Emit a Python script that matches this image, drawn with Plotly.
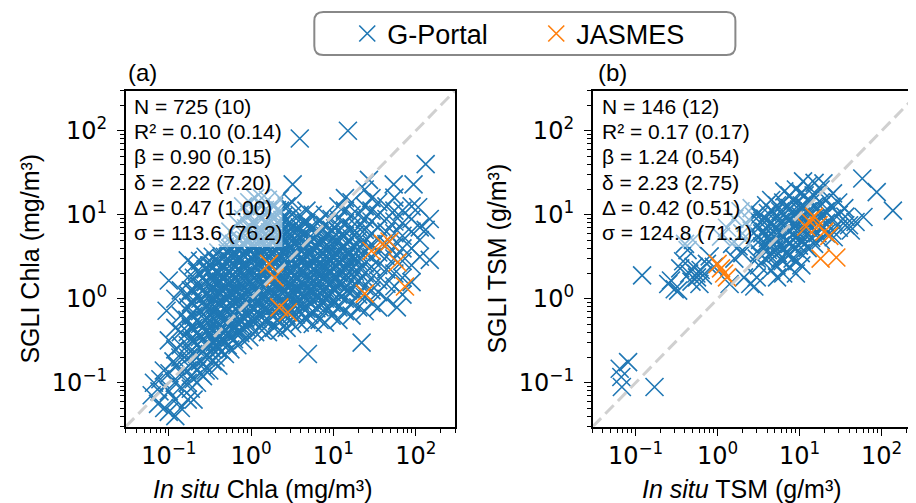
import plotly.graph_objects as go

BLUE = "#1f77b4"
ORANGE = "#ff7f0e"

# ---------------- data: (in situ, SGLI) pairs ----------------
a_gportal = [
    (0.062, 0.071), (0.066, 0.1),
    (0.074, 0.056), (0.077, 0.079), (0.079, 0.11),
    (0.088, 0.05), (0.09, 0.089), (0.087, 0.14), (0.094, 0.72),
    (0.1, 0.045), (0.1, 0.079), (0.102, 0.13), (0.1, 0.32), (0.1, 1.65), (0.114, 0.18),
    (0.12, 0.04), (0.12, 0.063), (0.118, 0.1), (0.122, 0.16), (0.12, 0.25), (0.12, 0.45), (0.12, 1.0),
    (0.14, 0.05), (0.14, 0.089), (0.142, 0.13), (0.138, 0.2), (0.14, 0.28), (0.14, 0.4), (0.14, 0.63), (0.14, 1.26),
    (0.17, 0.063), (0.17, 0.1), (0.168, 0.14), (0.172, 0.2), (0.17, 0.28), (0.17, 0.4), (0.168, 0.56),
    (0.172, 0.79), (0.17, 1.12), (0.17, 1.78), (0.17, 2.86),
    (0.2, 0.063), (0.2, 0.11), (0.2, 0.16), (0.198, 0.22), (0.202, 0.32), (0.2, 0.45), (0.2, 0.63),
    (0.198, 0.89), (0.2, 1.26), (0.202, 1.78), (0.2, 2.51),
    (0.24, 0.13), (0.24, 0.18), (0.242, 0.25), (0.238, 0.35), (0.24, 0.5), (0.24, 0.71), (0.242, 1.0),
    (0.24, 1.41), (0.238, 2.0), (0.24, 2.82),
    (0.28, 0.14), (0.28, 0.2), (0.28, 0.28), (0.282, 0.4), (0.278, 0.56), (0.28, 0.79), (0.28, 1.12),
    (0.282, 1.58), (0.28, 2.24), (0.28, 3.16),
    (0.34, 0.18), (0.34, 0.25), (0.338, 0.35), (0.342, 0.5), (0.34, 0.71), (0.34, 1.0), (0.34, 1.32),
    (0.338, 1.78), (0.34, 2.4), (0.342, 3.16),
    (0.4, 0.16), (0.4, 0.25), (0.4, 0.35), (0.398, 0.5), (0.402, 0.66), (0.4, 0.89), (0.4, 1.2),
    (0.4, 1.58), (0.398, 2.09), (0.4, 2.82), (0.4, 3.55),
    (0.48, 0.22), (0.48, 0.32), (0.48, 0.42), (0.478, 0.56), (0.482, 0.76), (0.48, 1.0), (0.48, 1.32),
    (0.48, 1.78), (0.478, 2.4), (0.48, 3.16), (0.48, 4.17),
    (0.56, 0.25), (0.56, 0.35), (0.56, 0.5), (0.558, 0.66), (0.562, 0.89), (0.56, 1.2), (0.56, 1.58),
    (0.56, 2.09), (0.558, 2.82), (0.56, 3.98), (0.56, 6.31), (0.52, 5.0),
    (0.68, 0.28), (0.68, 0.4), (0.68, 0.52), (0.678, 0.71), (0.682, 0.95), (0.68, 1.26), (0.68, 1.66),
    (0.68, 2.24), (0.678, 3.02), (0.68, 3.98), (0.68, 5.25), (0.68, 7.94),
    (0.8, 0.32), (0.8, 0.45), (0.8, 0.6), (0.798, 0.79), (0.802, 1.05), (0.8, 1.41), (0.8, 1.91),
    (0.8, 2.51), (0.798, 3.31), (0.8, 4.47), (0.8, 6.03), (0.8, 8.91), (0.8, 12.6),
    (0.95, 0.35), (0.95, 0.5), (0.95, 0.66), (0.948, 0.89), (0.952, 1.2), (0.95, 1.58), (0.95, 2.09),
    (0.95, 2.82), (0.948, 3.8), (0.95, 5.01), (0.95, 7.08), (0.95, 10.0), (0.95, 14.1),
    (1.12, 0.4), (1.12, 0.56), (1.12, 0.76), (1.118, 1.0), (1.122, 1.32), (1.12, 1.78), (1.12, 2.4),
    (1.12, 3.16), (1.118, 4.17), (1.12, 5.62), (1.12, 7.94), (1.12, 11.2), (1.12, 15.8),
    (1.35, 0.42), (1.35, 0.6), (1.35, 0.79), (1.348, 1.05), (1.352, 1.41), (1.35, 1.91), (1.35, 2.51),
    (1.35, 3.31), (1.348, 4.47), (1.35, 6.31), (1.35, 8.91), (1.35, 12.6), (1.35, 15.8),
    (1.6, 0.4), (1.6, 0.56), (1.6, 0.76), (1.598, 1.0), (1.602, 1.32), (1.6, 1.78), (1.6, 2.4),
    (1.6, 3.16), (1.598, 4.17), (1.6, 5.62), (1.6, 7.94), (1.6, 11.2), (1.6, 15.1),
    (1.9, 0.45), (1.9, 0.63), (1.9, 0.83), (1.898, 1.12), (1.902, 1.51), (1.9, 2.0), (1.9, 2.63),
    (1.9, 3.55), (1.898, 4.79), (1.9, 6.31), (1.9, 8.91), (1.9, 12.6),
    (2.24, 0.42), (2.24, 0.6), (2.24, 0.79), (2.238, 1.05), (2.242, 1.41), (2.24, 1.91), (2.24, 2.51),
    (2.24, 3.31), (2.238, 4.47), (2.24, 6.03), (2.24, 8.32), (2.24, 11.2), (2.24, 15.8),
    (2.7, 0.45), (2.7, 0.63), (2.7, 0.83), (2.698, 1.12), (2.702, 1.51), (2.7, 2.0), (2.7, 2.63),
    (2.7, 3.55), (2.698, 4.79), (2.7, 6.31), (2.7, 8.91), (2.7, 12.6),
    (3.16, 0.5), (3.16, 0.66), (3.16, 0.89), (3.158, 1.2), (3.162, 1.58), (3.16, 2.09), (3.16, 2.82),
    (3.16, 3.8), (3.158, 5.01), (3.16, 7.08), (3.16, 10.0), (3.16, 14.1), (3.2, 23.0),
    (3.9, 0.52), (3.9, 0.71), (3.9, 0.95), (3.898, 1.26), (3.902, 1.66), (3.9, 2.24), (3.9, 3.02),
    (3.9, 3.98), (3.898, 5.25), (3.9, 7.08), (3.9, 10.0), (3.9, 81.0),
    (4.9, 0.22), (4.7, 0.56), (4.7, 0.76), (4.698, 1.0), (4.702, 1.32), (4.7, 1.78), (4.7, 2.4),
    (4.7, 3.16), (4.698, 4.17), (4.7, 5.62), (4.7, 7.94), (4.7, 11.2),
    (5.6, 0.5), (5.6, 0.71), (5.6, 0.95), (5.598, 1.26), (5.602, 1.66), (5.6, 2.24), (5.6, 3.02),
    (5.6, 3.98), (5.598, 5.25), (5.6, 7.08), (5.6, 10.0),
    (6.8, 0.56), (6.8, 0.79), (6.8, 1.05), (6.798, 1.41), (6.802, 1.91), (6.8, 2.51), (6.8, 3.31),
    (6.8, 4.47), (6.798, 6.03), (6.8, 8.32),
    (7.9, 0.52), (7.9, 0.76), (7.9, 1.0), (7.898, 1.32), (7.902, 1.78), (7.9, 2.4), (7.9, 3.16),
    (7.9, 4.17), (7.898, 5.62), (7.9, 7.59), (7.9, 10.0),
    (9.5, 0.63), (9.5, 0.89), (9.5, 1.2), (9.48, 1.58), (9.52, 2.09), (9.5, 2.82), (9.5, 3.8),
    (9.5, 5.01), (9.48, 6.61), (9.5, 8.91),
    (11.5, 0.56), (11.5, 0.79), (11.5, 1.12), (11.48, 1.51), (11.52, 2.0), (11.5, 2.63), (11.5, 3.55),
    (11.5, 4.79), (11.48, 6.31), (11.5, 8.91), (11.5, 12.6),
    (13.8, 0.71), (13.8, 1.0), (13.8, 1.32), (13.78, 1.78), (13.82, 2.4), (13.8, 3.16), (13.8, 4.17),
    (13.8, 5.62), (13.78, 7.94), (13.8, 11.2), (13.8, 15.8), (15.0, 100.0),
    (16.6, 0.63), (16.6, 0.89), (16.6, 1.26), (16.58, 1.66), (16.62, 2.24), (16.6, 3.02), (16.6, 3.98),
    (16.6, 5.25), (16.58, 7.08), (16.6, 10.0), (16.6, 14.1),
    (22.0, 0.3), (20.0, 0.79), (20.0, 1.12), (19.98, 1.58), (20.02, 2.09), (20.0, 2.82), (20.0, 3.8),
    (20.0, 5.01), (19.98, 7.08), (20.0, 10.0),
    (24.0, 0.71), (24.0, 1.05), (24.0, 1.41), (23.98, 2.0), (24.02, 2.63), (24.0, 3.55), (24.0, 4.79),
    (24.0, 6.61), (23.98, 8.91), (24.0, 12.6), (24.0, 20.0),
    (29.0, 0.89), (29.0, 1.26), (29.0, 1.78), (28.98, 2.4), (29.02, 3.16), (29.0, 4.47), (29.0, 6.03),
    (29.0, 8.32), (28.98, 11.2), (29.0, 15.8), (27.0, 26.0),
    (35.0, 0.79), (35.0, 1.2), (35.0, 1.66), (34.98, 2.51), (35.02, 3.55), (35.0, 5.01), (35.0, 7.08),
    (35.0, 10.0), (35.0, 14.1),
    (44.0, 1.0), (44.0, 1.51), (44.0, 2.24), (43.98, 3.16), (44.02, 4.47), (44.0, 6.31), (44.0, 8.91),
    (44.0, 12.6), (54.0, 23.0),
    (59.0, 0.79), (55.0, 1.41), (55.0, 2.0), (54.98, 3.02), (55.02, 4.17), (55.0, 6.03), (55.0, 8.32),
    (55.0, 11.2), (55.0, 16.0),
    (69.0, 1.12), (69.0, 1.78), (69.0, 2.82), (68.98, 3.98), (69.02, 5.62), (69.0, 7.94), (69.0, 11.2),
    (89.0, 1.58), (89.0, 2.51), (89.0, 3.98), (88.98, 6.31), (89.02, 8.91), (89.0, 12.6), (94.0, 23.0),
    (112.0, 3.16), (112.0, 5.01), (112.0, 7.08), (107.0, 12.3),
    (132.0, 6.61), (132.0, 40.0),
    (148.0, 2.9), (148.0, 8.91),
    # dense core, in between the points above
    (0.185, 0.085), (0.185, 0.12), (0.185, 0.17), (0.185, 0.24), (0.185, 0.33), (0.185, 0.46),
    (0.185, 0.65), (0.185, 0.9), (0.185, 1.26),
    (0.22, 0.1), (0.22, 0.14), (0.22, 0.2), (0.22, 0.28), (0.22, 0.39), (0.22, 0.55), (0.22, 0.77),
    (0.22, 1.08), (0.22, 1.5), (0.22, 2.1),
    (0.26, 0.12), (0.26, 0.17), (0.26, 0.24), (0.26, 0.33), (0.26, 0.46), (0.26, 0.65), (0.26, 0.9),
    (0.26, 1.26), (0.26, 1.78),
    (0.31, 0.14), (0.31, 0.2), (0.31, 0.28), (0.31, 0.39), (0.31, 0.55), (0.31, 0.77), (0.31, 1.08),
    (0.31, 1.5), (0.31, 2.1), (0.31, 2.5),
    (0.37, 0.2), (0.37, 0.28), (0.37, 0.39), (0.37, 0.55), (0.37, 0.77), (0.37, 1.08), (0.37, 1.5),
    (0.37, 2.1), (0.37, 2.8),
    (0.44, 0.24), (0.44, 0.33), (0.44, 0.46), (0.44, 0.65), (0.44, 0.9), (0.44, 1.26), (0.44, 1.78),
    (0.44, 2.5), (0.44, 3.0),
    (0.52, 0.28), (0.52, 0.39), (0.52, 0.55), (0.52, 0.77), (0.52, 1.08), (0.52, 1.5), (0.52, 2.1),
    (0.52, 2.95), (0.52, 3.5),
    (0.62, 0.33), (0.62, 0.46), (0.62, 0.65), (0.62, 0.9), (0.62, 1.26), (0.62, 1.78), (0.62, 2.5),
    (0.62, 3.5), (0.62, 4.5),
    (0.74, 0.39), (0.74, 0.55), (0.74, 0.77), (0.74, 1.08), (0.74, 1.5), (0.74, 2.1), (0.74, 2.95),
    (0.74, 4.1), (0.74, 5.0),
    (0.87, 0.46), (0.87, 0.65), (0.87, 0.9), (0.87, 1.26), (0.87, 1.78), (0.87, 2.5), (0.87, 3.5),
    (0.87, 4.9), (0.87, 6.9),
    (1.03, 0.55), (1.03, 0.77), (1.03, 1.08), (1.03, 1.5), (1.03, 2.1), (1.03, 2.95), (1.03, 4.1),
    (1.03, 5.8), (1.03, 8.1),
    (1.23, 0.65), (1.23, 0.9), (1.23, 1.26), (1.23, 1.78), (1.23, 2.5), (1.23, 3.5), (1.23, 4.9),
    (1.23, 6.9), (1.23, 9.6),
    (1.47, 0.55), (1.47, 0.77), (1.47, 1.08), (1.47, 1.5), (1.47, 2.1), (1.47, 2.95), (1.47, 4.1),
    (1.47, 5.8), (1.47, 8.1), (1.47, 11.4),
    (1.75, 0.65), (1.75, 0.9), (1.75, 1.26), (1.75, 1.78), (1.75, 2.5), (1.75, 3.5), (1.75, 4.9),
    (1.75, 6.9), (1.75, 9.6),
    (2.06, 0.55), (2.06, 0.77), (2.06, 1.08), (2.06, 1.5), (2.06, 2.1), (2.06, 2.95), (2.06, 4.1),
    (2.06, 5.8), (2.06, 8.1), (2.06, 11.4),
    (2.46, 0.65), (2.46, 0.9), (2.46, 1.26), (2.46, 1.78), (2.46, 2.5), (2.46, 3.5), (2.46, 4.9),
    (2.46, 6.9), (2.46, 9.6),
    (2.92, 0.55), (2.92, 0.77), (2.92, 1.08), (2.92, 1.5), (2.92, 2.1), (2.92, 2.95), (2.92, 4.1),
    (2.92, 5.8), (2.92, 8.1),
    (3.5, 0.65), (3.5, 0.9), (3.5, 1.26), (3.5, 1.78), (3.5, 2.5), (3.5, 3.5), (3.5, 4.9), (3.5, 6.9),
    (4.3, 0.77), (4.3, 1.08), (4.3, 1.5), (4.3, 2.1), (4.3, 2.95), (4.3, 4.1), (4.3, 5.8), (4.3, 8.1),
    (5.1, 0.65), (5.1, 0.9), (5.1, 1.26), (5.1, 1.78), (5.1, 2.5), (5.1, 3.5), (5.1, 4.9), (5.1, 6.9),
    (6.2, 0.77), (6.2, 1.08), (6.2, 1.5), (6.2, 2.1), (6.2, 2.95), (6.2, 4.1), (6.2, 5.8),
    (7.3, 0.9), (7.3, 1.26), (7.3, 1.78), (7.3, 2.5), (7.3, 3.5), (7.3, 4.9), (7.3, 6.9),
    (8.7, 0.77), (8.7, 1.08), (8.7, 1.5), (8.7, 2.1), (8.7, 2.95), (8.7, 4.1), (8.7, 5.8),
    (10.5, 0.9), (10.5, 1.26), (10.5, 1.78), (10.5, 2.5), (10.5, 3.5), (10.5, 4.9), (10.5, 6.9),
    (12.6, 1.08), (12.6, 1.5), (12.6, 2.1), (12.6, 2.95), (12.6, 4.1), (12.6, 5.8),
    (15.1, 1.26), (15.1, 1.78), (15.1, 2.5), (15.1, 3.5), (15.1, 4.9),
    (18.2, 1.5), (18.2, 2.1), (18.2, 2.95), (18.2, 4.1), (18.2, 5.8),
    # solid centre of the cloud
    (0.3, 0.3), (0.3, 0.42), (0.3, 0.58), (0.3, 0.82), (0.3, 1.15),
    (0.36, 0.3), (0.36, 0.42), (0.36, 0.58), (0.36, 0.82), (0.36, 1.15), (0.36, 1.6),
    (0.43, 0.3), (0.43, 0.42), (0.43, 0.58), (0.43, 0.82), (0.43, 1.15), (0.43, 1.6), (0.43, 2.25),
    (0.5, 0.42), (0.5, 0.58), (0.5, 0.82), (0.5, 1.15), (0.5, 1.6), (0.5, 2.25),
    (0.6, 0.42), (0.6, 0.58), (0.6, 0.82), (0.6, 1.15), (0.6, 1.6), (0.6, 2.25), (0.6, 3.15),
    (0.72, 0.42), (0.72, 0.58), (0.72, 0.82), (0.72, 1.15), (0.72, 1.6), (0.72, 2.25), (0.72, 3.15),
    (0.85, 0.58), (0.85, 0.82), (0.85, 1.15), (0.85, 1.6), (0.85, 2.25), (0.85, 3.15), (0.85, 4.4),
    (1.0, 0.58), (1.0, 0.82), (1.0, 1.15), (1.0, 1.6), (1.0, 2.25), (1.0, 3.15), (1.0, 4.4),
    (1.2, 0.58), (1.2, 0.82), (1.2, 1.15), (1.2, 1.6), (1.2, 2.25), (1.2, 3.15), (1.2, 4.4), (1.2, 6.2),
    (1.42, 0.82), (1.42, 1.15), (1.42, 1.6), (1.42, 2.25), (1.42, 3.15), (1.42, 4.4), (1.42, 6.2),
    (1.7, 0.82), (1.7, 1.15), (1.7, 1.6), (1.7, 2.25), (1.7, 3.15), (1.7, 4.4), (1.7, 6.2), (1.7, 8.7),
    (2.0, 0.82), (2.0, 1.15), (2.0, 1.6), (2.0, 2.25), (2.0, 3.15), (2.0, 4.4), (2.0, 6.2),
    (2.4, 0.82), (2.4, 1.15), (2.4, 1.6), (2.4, 2.25), (2.4, 3.15), (2.4, 4.4), (2.4, 6.2), (2.4, 8.7),
    (2.85, 0.82), (2.85, 1.15), (2.85, 1.6), (2.85, 2.25), (2.85, 3.15), (2.85, 4.4), (2.85, 6.2),
    (3.4, 0.82), (3.4, 1.15), (3.4, 1.6), (3.4, 2.25), (3.4, 3.15), (3.4, 4.4), (3.4, 6.2),
    (4.1, 0.82), (4.1, 1.15), (4.1, 1.6), (4.1, 2.25), (4.1, 3.15), (4.1, 4.4), (4.1, 6.2),
    (4.9, 1.15), (4.9, 1.6), (4.9, 2.25), (4.9, 3.15), (4.9, 4.4),
    (5.9, 1.15), (5.9, 1.6), (5.9, 2.25), (5.9, 3.15), (5.9, 4.4), (5.9, 6.2),
    (7.0, 1.15), (7.0, 1.6), (7.0, 2.25), (7.0, 3.15), (7.0, 4.4),
    (8.4, 1.15), (8.4, 1.6), (8.4, 2.25), (8.4, 3.15), (8.4, 4.4),
    (10.0, 1.6), (10.0, 2.25), (10.0, 3.15), (10.0, 4.4),
    (12.0, 1.6), (12.0, 2.25), (12.0, 3.15),
    (14.5, 2.25), (14.5, 3.15),
]

a_jasmes = [
    (1.65, 2.6), (1.93, 1.8), (2.2, 0.79), (2.8, 0.69), (29.0, 3.7),
    (48.0, 4.8), (40.0, 4.5), (60.0, 2.7), (74.0, 1.4), (24.0, 1.15),
]

b_gportal = [
    (0.064, 0.147), (0.067, 0.117), (0.068, 0.089), (0.081, 0.176), (0.17, 0.089), (0.12, 1.9),
    (0.25, 1.5), (0.27, 1.65), (0.3, 1.3), (0.33, 1.25), (0.35, 2.3), (0.38, 2.8), (0.4, 4.5),
    (0.43, 3.8), (0.45, 2.0), (0.48, 1.6), (0.5, 5.0), (0.51, 2.4), (0.55, 2.0), (0.56, 1.8),
    (0.6, 1.5), (0.62, 2.2), (0.66, 1.9), (0.74, 2.6), (0.8, 3.2), (0.9, 2.4),
    (1.1, 5.5), (1.3, 7.0), (1.4, 1.5), (1.5, 4.5), (1.6, 9.0), (1.6, 3.0), (1.8, 4.2), (1.9, 11.0),
    (2.0, 6.0), (2.0, 3.5), (2.1, 1.8), (2.2, 8.0), (2.4, 4.5), (2.5, 1.5), (2.6, 12.0), (2.6, 6.5),
    (2.8, 9.5), (2.8, 1.4), (3.0, 3.0), (3.0, 1.8),
    (3.2, 2.5), (3.2, 3.5), (3.3, 5.0), (3.2, 7.0), (3.3, 10.0),
    (3.8, 3.0), (3.9, 4.5), (3.7, 6.3), (3.8, 9.0), (3.9, 13.0),
    (4.5, 2.2), (4.4, 3.2), (4.6, 4.5), (4.5, 6.0), (4.4, 8.0), (4.6, 11.0), (4.5, 15.0),
    (5.3, 1.8), (5.2, 2.5), (5.4, 3.5), (5.3, 5.0), (5.2, 7.0), (5.4, 9.5), (5.3, 13.0),
    (6.3, 2.0), (6.2, 2.8), (6.4, 4.0), (6.3, 5.6), (6.2, 7.5), (6.4, 10.0), (6.3, 14.0), (6.5, 19.0),
    (7.5, 2.4), (7.4, 3.3), (7.6, 4.5), (7.5, 6.3), (7.4, 8.5), (7.6, 12.0), (7.5, 17.0),
    (9.0, 2.0), (9.3, 2.8), (8.8, 4.0), (9.0, 5.5), (9.2, 7.5), (8.9, 10.0), (9.1, 14.0), (9.0, 20.0),
    (10.5, 2.5), (10.3, 3.5), (10.7, 5.0), (10.5, 7.0), (10.4, 9.5), (10.6, 13.0), (10.5, 18.0), (11.0, 25.0),
    (12.5, 4.0), (12.3, 6.0), (12.7, 8.0), (12.5, 11.0), (12.4, 15.0), (12.6, 22.0),
    (15.0, 4.5), (14.8, 6.5), (15.2, 9.0), (15.0, 12.5), (14.8, 17.0), (15.2, 24.0),
    (18.0, 5.0), (17.7, 7.0), (18.3, 10.0), (18.0, 14.0), (18.0, 20.0),
    (21.0, 6.0), (21.0, 8.0), (20.7, 11.0), (21.3, 15.0), (19.5, 23.6),
    (25.0, 6.5), (25.0, 9.0), (24.5, 12.5), (25.5, 18.0), (26.0, 5.4),
    (30.0, 7.0), (30.0, 10.0), (29.5, 14.0),
    (36.0, 7.5), (36.0, 9.5), (35.0, 12.0),
    (40.0, 7.5), (42.0, 6.5), (48.0, 8.2), (60.0, 9.4),
    (58.0, 27.0), (87.0, 18.6), (137.0, 11.2),
    # dense core of panel (b)
    (3.5, 4.2), (3.5, 6.0), (3.5, 8.5),
    (4.1, 3.8), (4.1, 5.3), (4.1, 7.4), (4.1, 10.5),
    (4.9, 3.9), (4.9, 5.5), (4.9, 7.6), (4.9, 10.5),
    (5.8, 3.0), (5.8, 4.3), (5.8, 6.0), (5.8, 8.2), (5.8, 11.0),
    (6.9, 3.4), (6.9, 4.8), (6.9, 6.8), (6.9, 9.0), (6.9, 12.0),
    (8.2, 3.0), (8.2, 4.3), (8.2, 5.9), (8.2, 8.0), (8.2, 11.0), (8.2, 15.0),
    (9.8, 4.3), (9.8, 6.0), (9.8, 8.2), (9.8, 11.5),
    (11.5, 4.5), (11.5, 6.5), (11.5, 9.0), (11.5, 12.5), (11.5, 17.0),
    (13.8, 5.3), (13.8, 7.2), (13.8, 10.0), (13.8, 14.0),
    (16.5, 6.0), (16.5, 8.5), (16.5, 12.0),
    (19.5, 7.0), (19.5, 9.5),
]

b_jasmes = [
    (1.0, 2.6), (1.1, 2.3), (1.2, 2.0), (1.3, 1.8), (13.0, 8.5), (15.0, 9.5),
    (12.0, 7.2), (17.0, 7.5), (20.0, 6.3), (23.0, 5.6), (18.0, 3.0), (28.0, 3.1),
]

a_stats = ["N = 725 (10)", "R² = 0.10 (0.14)", "β = 0.90 (0.15)",
           "δ = 2.22 (7.20)", "Δ = 0.47 (1.00)", "σ = 113.6 (76.2)"]
b_stats = ["N = 146 (12)", "R² = 0.17 (0.17)", "β = 1.24 (0.54)",
           "δ = 2.23 (2.75)", "Δ = 0.42 (0.51)", "σ = 124.8 (71.1)"]

one_to_one = [0.03, 300]
tick_vals = [0.1, 1, 10, 100]
tick_text = ["10<sup>\u22121</sup>", "10<sup>0</sup>", "10<sup>1</sup>", "10<sup>2</sup>"]

# ---------------- figure ----------------
OFF = 8                      # the page body margin of the browser
W, H = 916 - OFF, 503 - OFF
TXT = "Liberation Sans, Arial, sans-serif"


def px_x(p):
    return (p - OFF) / W


def px_y(p):
    return 1 - (p - OFF) / H


fig = go.Figure()


def add_scatter(pairs, color, name, xa, ya, show):
    fig.add_trace(go.Scatter(
        x=[p[0] for p in pairs], y=[p[1] for p in pairs],
        mode="markers", name=name, legendgroup=name, showlegend=show,
        xaxis=xa, yaxis=ya,
        marker=dict(symbol="x-thin", size=18, color=color,
                    line=dict(color=color, width=1.6)),
    ))


add_scatter(a_gportal, BLUE, "G-Portal", "x", "y", True)
add_scatter(a_jasmes, ORANGE, "JASMES", "x", "y", True)
add_scatter(b_gportal, BLUE, "G-Portal", "x2", "y2", False)
add_scatter(b_jasmes, ORANGE, "JASMES", "x2", "y2", False)

for xa, ya in (("x", "y"), ("x2", "y2")):
    fig.add_trace(go.Scatter(
        x=one_to_one, y=one_to_one, mode="lines", showlegend=False,
        xaxis=xa, yaxis=ya, hoverinfo="skip",
        line=dict(color="rgba(205,205,205,0.95)", width=3, dash="12px,6px"),
    ))

axis_common = dict(
    type="log", showline=True, linecolor="black", linewidth=1.6, mirror=True,
    ticks="outside", ticklen=7, tickwidth=1.4, tickcolor="black",
    showgrid=False, zeroline=False,
    tickmode="array", tickvals=tick_vals, ticktext=tick_text,
    tickfont=dict(family="DejaVu Sans", size=24, color="black"),
    minor=dict(ticks="outside", ticklen=4, tickwidth=1, tickcolor="black",
               dtick="D1", showgrid=False),
)

y_dom = [px_y(426.7), px_y(90.7)]
ytitle_font = dict(family=TXT, size=25, color="black")
fig.update_layout(
    width=W, height=H,
    margin=dict(l=0, r=0, t=0, b=0),
    paper_bgcolor="white", plot_bgcolor="white",
    xaxis=dict(domain=[px_x(126), px_x(456)], range=[-1.523, 2.477], anchor="y", **axis_common),
    yaxis=dict(domain=y_dom, range=[-1.523, 2.477], anchor="x", ticklabelstandoff=5,
               title=dict(text="SGLI Chla (mg/m³)", font=ytitle_font, standoff=5),
               **axis_common),
    xaxis2=dict(domain=[px_x(594), 1.0], range=[-1.523, 2.394], anchor="y2", **axis_common),
    yaxis2=dict(domain=y_dom, range=[-1.523, 2.477], anchor="x2", ticklabelstandoff=5,
                title=dict(text="SGLI TSM (g/m³)", font=ytitle_font, standoff=5),
                **axis_common),
    legend=dict(orientation="h", x=px_x(348), xanchor="left", y=px_y(34), yanchor="middle",
                font=dict(family=TXT, size=27, color="black"), bgcolor="rgba(0,0,0,0)",
                borderwidth=0, itemclick=False, entrywidth=144),
    showlegend=True,
)

# rounded legend frame
x0, x1 = px_x(315), px_x(737)
y0, y1 = px_y(55), px_y(12)
rx, ry = 9 / W, 9 / H
path = (f"M {x0+rx},{y0} L {x1-rx},{y0} Q {x1},{y0} {x1},{y0+ry} L {x1},{y1-ry} "
        f"Q {x1},{y1} {x1-rx},{y1} L {x0+rx},{y1} Q {x0},{y1} {x0},{y1-ry} "
        f"L {x0},{y0+ry} Q {x0},{y0} {x0+rx},{y0} Z")
fig.add_shape(type="path", path=path, xref="paper", yref="paper",
              line=dict(color="#888888", width=2), fillcolor="rgba(255,255,255,0)")

# statistics boxes: translucent white panel with one text line per statistic
for box_l, box_r, text_l, stats in ((127.5, 283, 133, a_stats), (595.5, 753, 602, b_stats)):
    fig.add_shape(type="rect", xref="paper", yref="paper",
                  x0=px_x(box_l), x1=px_x(box_r), y0=px_y(247), y1=px_y(91.5),
                  line=dict(width=0), fillcolor="rgba(255,255,255,0.5)", layer="above")
    for i, line in enumerate(stats):
        fig.add_annotation(
            x=px_x(text_l), y=px_y(106.7 + 25.1 * i), xref="paper", yref="paper",
            xanchor="left", yanchor="middle", align="left", showarrow=False,
            text=line, font=dict(family=TXT, size=21, color="black"), borderpad=0,
        )

# panel labels
for left, lab in ((126, "(a)"), (597, "(b)")):
    fig.add_annotation(x=px_x(left), y=px_y(73), xref="paper", yref="paper",
                       xanchor="left", yanchor="middle", showarrow=False,
                       text=lab, font=dict(family=TXT, size=24, color="black"))

# x-axis titles
for cx, lab in ((264, "<i>In situ</i> Chla (mg/m³)"), (744, "<i>In situ</i> TSM (g/m³)")):
    fig.add_annotation(x=px_x(cx), y=px_y(489), xref="paper", yref="paper",
                       xanchor="center", yanchor="middle", showarrow=False,
                       text=lab, font=dict(family=TXT, size=25, color="black"))

fig.write_html("out.html")
